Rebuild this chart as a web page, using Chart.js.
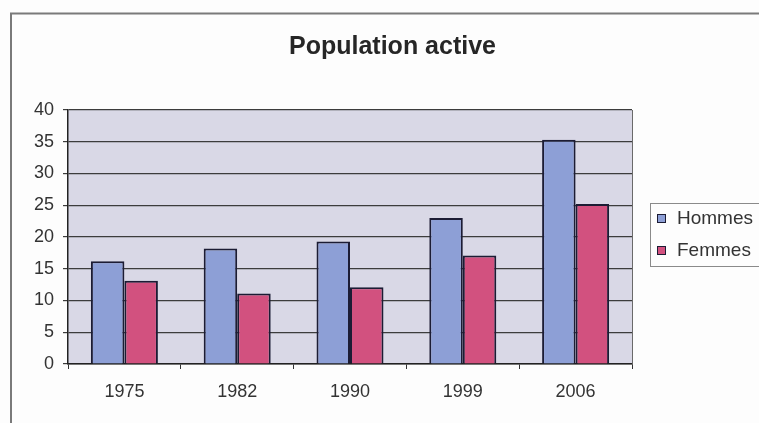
<!DOCTYPE html>
<html>
<head>
<meta charset="utf-8">
<script src="https://cdn.jsdelivr.net/npm/chart.js@4/dist/chart.umd.min.js"></script>
<style>
  html, body { margin: 0; padding: 0; background: #fdfdfd; }
  #wrap { width: 759px; height: 423px; }
</style>
</head>
<body>
<div id="wrap"><canvas id="c" width="759" height="423"></canvas></div>
<script>
// Population active par sexe (millions)
const titre = "Population active";
const annees = ["1975", "1982", "1990", "1999", "2006"];
const hommes = [16.2, 18.2, 19.3, 23.0, 35.3];
const femmes = [13.1, 11.1, 12.1, 17.1, 25.2];
const seriesNoms = ["Hommes", "Femmes"];
const graduationsY = [0, 5, 10, 15, 20, 25, 30, 35, 40];

const police = "'Liberation Sans', Arial, sans-serif";
const couleurs = ["#8d9fd6", "#d2517f"];
const bordure = "#1c1c34";

// Fond de la zone de tracé, cadre du graphique, titre et légende
const decor = {
  id: "decor",
  beforeDraw(chart) {
    const { ctx, chartArea: a } = chart;
    ctx.save();
    ctx.fillStyle = "#d9d8e6";
    ctx.fillRect(a.left, a.top, a.right - a.left, a.bottom - a.top);
    ctx.restore();
  },
  afterDraw(chart) {
    const { ctx, chartArea: a } = chart;
    ctx.save();
    // cadre extérieur
    ctx.strokeStyle = "#7a7a7a";
    ctx.lineWidth = 2;
    ctx.beginPath();
    ctx.moveTo(11, 430);
    ctx.lineTo(11, 13.5);
    ctx.lineTo(770, 13.5);
    ctx.stroke();
    // bord droit de la zone de tracé
    ctx.strokeStyle = "#6a6a6a";
    ctx.lineWidth = 1;
    ctx.beginPath();
    ctx.moveTo(a.right + 0.5, a.top);
    ctx.lineTo(a.right + 0.5, a.bottom);
    ctx.stroke();
    // titre
    ctx.fillStyle = "#262626";
    ctx.font = "bold 25px " + police;
    ctx.textAlign = "center";
    ctx.textBaseline = "middle";
    ctx.fillText(titre, 392.5, 47);
    // légende
    ctx.strokeStyle = "#8a8a8a";
    ctx.lineWidth = 1;
    ctx.strokeRect(650.5, 203.5, 130, 63);
    ctx.font = "19px " + police;
    ctx.textAlign = "left";
    chart.data.datasets.forEach((ds, i) => {
      const y = 218 + i * 32;
      ctx.fillStyle = ds.backgroundColor;
      ctx.fillRect(657, y - 4, 9, 9);
      ctx.strokeStyle = bordure;
      ctx.strokeRect(657.5, y - 3.5, 8, 8);
      ctx.fillStyle = "#333";
      ctx.fillText(ds.label, 677, y + 1);
    });
    ctx.restore();
  }
};

new Chart(document.getElementById("c"), {
  type: "bar",
  data: {
    labels: annees,
    datasets: [
      { label: seriesNoms[0], data: hommes, backgroundColor: couleurs[0],
        borderColor: bordure, borderWidth: 2 },
      { label: seriesNoms[1], data: femmes, backgroundColor: couleurs[1],
        borderColor: bordure, borderWidth: 2 }
    ]
  },
  options: {
    responsive: false,
    animation: false,
    devicePixelRatio: 1,
    layout: { padding: { top: 110, left: 10, right: 127, bottom: 9 } },
    datasets: { bar: { categoryPercentage: 0.594, barPercentage: 1.0 } },
    plugins: { legend: { display: false }, title: { display: false }, tooltip: { enabled: false } },
    scales: {
      x: {
        afterFit(s) { s.height = 50; },
        grid: { offset: true, drawOnChartArea: false, drawTicks: true, tickLength: 5, color: "#333" },
        border: { display: true, color: "#222", width: 1.5 },
        ticks: { color: "#333", font: { size: 18, family: police }, padding: 12 }
      },
      y: {
        min: 0, max: 40,
        afterFit(s) { s.width = 58; },
        afterBuildTicks(s) { s.ticks = graduationsY.map(v => ({ value: v })); },
        grid: { color: "#3c3c3c", lineWidth: 1.2, tickLength: 5, drawTicks: true },
        border: { display: true, color: "#222", width: 1.5 },
        ticks: { color: "#333", font: { size: 18, family: police }, padding: 9 }
      }
    }
  },
  plugins: [decor]
});
</script>
</body>
</html>
